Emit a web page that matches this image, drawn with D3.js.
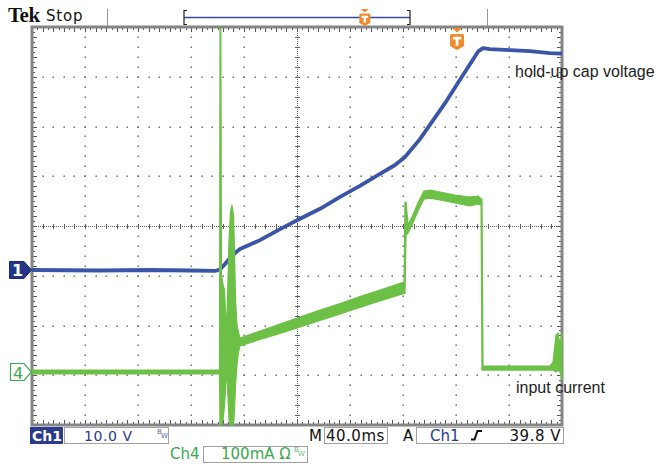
<!DOCTYPE html>
<html><head><meta charset="utf-8">
<script src="https://cdn.jsdelivr.net/npm/d3@7"></script>
<style>body{margin:0;background:#fff}svg{display:block}</style>
</head><body>
<svg id="scope" width="658" height="464"></svg>
<script>
// Acquisition settings
const timeDivs = 10, vertDivs = 8;
const msPerDiv = 40;
const ch1VoltsPerDiv = 10, ch1Position = -0.884;   // divisions from centre
const ch4mAPerDiv = 100, ch4Position = -2.935;
const triggerTime = 320.8;                          // ms from left edge
const recordTrigger = 0.8;                          // fraction of record bar

// Ch1: hold-up capacitor voltage (V) vs time (ms)
const ch1Time  = [0, 51.3, 89.1, 119.2, 138.1, 141.9, 145.7, 149.4, 153.2, 157.0, 172.1, 187.2, 202.3, 217.4, 232.5, 247.5, 262.6, 274.0, 281.5, 292.8, 312.4, 325.3, 337.0, 340.4, 345.7, 360.8, 375.8, 390.9, 400];
const ch1Volts = [0, -0.1, 0, -0.1, -0.2, 0.1, 1.2, 2.4, 3.4, 4.2, 6.0, 8.2, 10.3, 12.3, 14.7, 16.9, 19.3, 21.1, 22.7, 26.3, 33.8, 39.2, 44.0, 44.6, 44.4, 44.2, 44.0, 43.6, 43.5];

// Ch4: input current envelope (mA) vs time (ms)
const ch4Time = [0, 51.3, 96.6, 140.4, 141.5, 141.9, 142.5, 143.0, 144.2, 145.3, 146.0, 146.8, 147.5, 148.7, 149.8, 150.9, 152.1, 152.8, 153.6, 154.7, 155.8, 157.0, 172.1, 187.2, 202.3, 217.4, 232.5, 247.5, 262.6, 280.8, 281.5, 282.3, 283.8, 286.8, 291.3, 295.8, 300.4, 307.9, 319.2, 330.6, 336.6, 338.9, 339.6, 340.4, 353.2, 375.8, 390.9, 393.2, 395.5, 397.0, 398.5, 400];
const ch4Min  = [-4, -4, -4, -4, -4, -106.5, -106.5, -106.5, -96.5, -66.3, -36.2, 4.0, -26.1, -96.5, -106.5, -106.5, -106.5, -76.4, -26.1, 14.1, 40.2, 52.3, 65.3, 77.4, 90.5, 103.5, 116.6, 129.7, 142.7, 157.8, 157.8, 275.4, 279.4, 295.5, 323.6, 347.7, 349.7, 345.7, 339.7, 333.7, 337.7, 335.7, 4.0, 4.0, 4.0, 4.0, 4.0, 4.0, 0, 4.0, 0, -16.1];
const ch4Max  = [4, 4, 4, 4, 4, 691.5, 691.5, 195.0, 174.9, 164.8, 124.6, 84.4, 144.7, 265.3, 321.6, 335.7, 315.6, 245.2, 144.7, 94.5, 80.4, 68.3, 82.4, 96.5, 110.6, 124.6, 137.7, 151.8, 164.8, 180.9, 341.7, 341.7, 295.5, 311.6, 339.7, 363.8, 365.8, 361.8, 355.8, 351.8, 353.8, 347.8, 347.8, 12.1, 12.1, 12.1, 12.1, 20.1, 74.4, 78.4, 54.3, 78.4];

// Readouts
const ch1Scale = "10.0 V", ch4Scale = "100mA", timebase = "40.0ms", trigLevel = "39.8 V";
const traceLabels = ["hold-up cap voltage", "input current"];

const svg = d3.select("#scope");
const L = 32, R = 562, T = 27, B = 425;
const x = d3.scaleLinear().domain([0, timeDivs * msPerDiv]).range([L, R]);
const y1 = d3.scaleLinear()
  .domain([(-vertDivs / 2 - ch1Position) * ch1VoltsPerDiv, (vertDivs / 2 - ch1Position) * ch1VoltsPerDiv])
  .range([B, T]);
const y4 = d3.scaleLinear()
  .domain([(-vertDivs / 2 - ch4Position) * ch4mAPerDiv, (vertDivs / 2 - ch4Position) * ch4mAPerDiv])
  .range([B, T]);

const dx = (R - L) / timeDivs, dy = (B - T) / vertDivs;
const grid = svg.append("g");
const dotCol = "#5e5e5e";

// dotted division lines
for (let i = 1; i < timeDivs; i++) {
  if (i === timeDivs / 2) continue;
  const gx = Math.round(L + i * dx);
  d3.range(0, vertDivs * 5 + 1).forEach(k => {
    grid.append("rect").attr("x", gx - 0.5).attr("y", Math.round(T + k * dy / 5) - 0.5)
      .attr("width", 1.4).attr("height", 1.4).attr("fill", dotCol);
  });
}
for (let j = 1; j < vertDivs; j++) {
  if (j === vertDivs / 2) continue;
  const gy = Math.round(T + j * dy);
  d3.range(0, timeDivs * 5 + 1).forEach(k => {
    grid.append("rect").attr("x", Math.round(L + k * dx / 5) - 0.5).attr("y", gy - 0.5)
      .attr("width", 1.4).attr("height", 1.4).attr("fill", dotCol);
  });
}
// centre cross-hair with minor ticks
const cx = Math.round(L + 5 * dx), cy = Math.round(T + 4 * dy);
grid.append("line").attr("x1", L).attr("x2", R).attr("y1", cy + 0.5).attr("y2", cy + 0.5)
  .attr("stroke", dotCol).attr("stroke-dasharray", "1,1");
grid.append("line").attr("y1", T).attr("y2", B).attr("x1", cx + 0.5).attr("x2", cx + 0.5)
  .attr("stroke", dotCol).attr("stroke-dasharray", "1,1");
d3.range(0, timeDivs * 5 + 1).forEach(k => {
  const px = Math.round(L + k * dx / 5) + 0.5;
  grid.append("line").attr("x1", px).attr("x2", px).attr("y1", cy - 2).attr("y2", cy + 3).attr("stroke", dotCol);
});
d3.range(0, vertDivs * 5 + 1).forEach(k => {
  const py = Math.round(T + k * dy / 5) + 0.5;
  grid.append("line").attr("y1", py).attr("y2", py).attr("x1", cx - 2).attr("x2", cx + 3).attr("stroke", dotCol);
});
// border ticks
d3.range(0, timeDivs * 10 + 1).forEach(k => {
  const px = Math.round(L + k * dx / 10) + 0.5, len = k % 2 ? 2 : 4;
  grid.append("line").attr("x1", px).attr("x2", px).attr("y1", T).attr("y2", T + 1 + len).attr("stroke", "#555");
  grid.append("line").attr("x1", px).attr("x2", px).attr("y1", B).attr("y2", B - 1 - len).attr("stroke", "#555");
});
d3.range(0, vertDivs * 10 + 1).forEach(k => {
  const py = Math.round(T + k * dy / 10) + 0.5, len = k % 2 ? 2 : 4;
  grid.append("line").attr("y1", py).attr("y2", py).attr("x1", L).attr("x2", L + 1 + len).attr("stroke", "#555");
  grid.append("line").attr("y1", py).attr("y2", py).attr("x1", R).attr("x2", R - 1 - len).attr("stroke", "#555");
});
grid.append("rect").attr("x", L).attr("y", T).attr("width", R - L).attr("height", B - T)
  .attr("fill", "none").attr("stroke", "#858585").attr("stroke-width", 3);

// traces
const blue = "#3a55a8", green = "#6cc046";
svg.append("path")
  .datum(ch1Time.map((t, i) => [t, ch1Volts[i]]))
  .attr("d", d3.line().x(d => x(d[0])).y(d => y1(d[1])))
  .attr("fill", "none").attr("stroke", blue).attr("stroke-width", 3.8).attr("stroke-linejoin", "round");

const ch4 = ch4Time.map((t, i) => ({ t, lo: ch4Min[i], hi: ch4Max[i] }));
svg.append("path")
  .datum(ch4)
  .attr("d", d3.area().x(d => x(d.t)).y0(d => y4(d.lo)).y1(d => y4(d.hi)))
  .attr("fill", green).attr("stroke", green).attr("stroke-width", 1.2).attr("stroke-linejoin", "round");

// trigger position marker
function tMarker(g, cxp, top, w, h) {
  const c = "#f08a2c";
  g.append("path").attr("d", `M${cxp - w * 0.35},${top}L${cxp + w * 0.35},${top}L${cxp},${top + h * 0.2}Z`).attr("fill", c);
  const bt = top + h * 0.27, bb = top + h;
  g.append("path")
    .attr("d", `M${cxp - w / 2},${bt + 1.5}Q${cxp - w / 2},${bt} ${cxp - w / 2 + 1.5},${bt}L${cxp + w / 2 - 1.5},${bt}Q${cxp + w / 2},${bt} ${cxp + w / 2},${bt + 1.5}L${cxp + w / 2},${bb - h * 0.18}L${cxp},${bb}L${cxp - w / 2},${bb - h * 0.18}Z`)
    .attr("fill", c);
  const tw = w * 0.6, th = (bb - bt) * 0.55, ty = bt + (bb - bt) * 0.18;
  g.append("rect").attr("x", cxp - tw / 2).attr("y", ty).attr("width", tw).attr("height", h * 0.12).attr("fill", "#fff");
  g.append("rect").attr("x", cxp - w * 0.1).attr("y", ty).attr("width", w * 0.2).attr("height", th).attr("fill", "#fff");
}
tMarker(svg.append("g"), x(triggerTime), 28, 14, 22);

// header
svg.append("text").attr("x", 8).attr("y", 22).text("Tek")
  .attr("font-family", "Liberation Serif").attr("font-weight", "bold").attr("font-size", 21).attr("fill", "#111")
  .attr("letter-spacing", -0.5);
svg.append("text").attr("x", 46).attr("y", 21).text("Stop")
  .attr("font-family", "DejaVu Sans").attr("font-size", 15).attr("fill", "#111").attr("letter-spacing", 0.8);
svg.append("line").attr("x1", 107.5).attr("x2", 107.5).attr("y1", 9).attr("y2", 26).attr("stroke", "#999");
const rb0 = 184, rb1 = 410;
svg.append("line").attr("x1", rb0).attr("x2", rb1).attr("y1", 17.5).attr("y2", 17.5).attr("stroke", "#3a4a9a").attr("stroke-width", 1.3);
svg.append("path").attr("d", `M${rb0 + 3},10.5H${rb0}V24.5H${rb0 + 3}`).attr("fill", "none").attr("stroke", "#222").attr("stroke-width", 1.2);
svg.append("path").attr("d", `M${rb1 - 3},10.5H${rb1}V24.5H${rb1 - 3}`).attr("fill", "none").attr("stroke", "#222").attr("stroke-width", 1.2);
tMarker(svg.append("g"), rb0 + (rb1 - rb0) * recordTrigger, 9, 11, 17);
svg.append("line").attr("x1", 487.5).attr("x2", 487.5).attr("y1", 9).attr("y2", 26).attr("stroke", "#999");

// channel ground markers
const m1 = svg.append("g").attr("transform", `translate(0,${y1(0)})`);
m1.append("path").attr("d", "M9.5,-8.5H24L31.5,0L24,8.5H9.5Z").attr("fill", "#24368a").attr("stroke", "#1c2a70");
m1.append("text").attr("x", 17.5).attr("y", 6.5).attr("text-anchor", "middle").text("1")
  .attr("font-family", "DejaVu Sans").attr("font-weight", "bold").attr("font-size", 16).attr("fill", "#fff");
const m4 = svg.append("g").attr("transform", `translate(0,${y4(0)})`);
m4.append("path").attr("d", "M10.5,-8.5H24L31.5,0L24,8.5H10.5Z").attr("fill", "#fff").attr("stroke", "#3aaa50").attr("stroke-width", 1.2);
m4.append("text").attr("x", 18).attr("y", 6.5).attr("text-anchor", "middle").text("4")
  .attr("font-family", "DejaVu Sans").attr("font-size", 16).attr("fill", "#3aaa50");

// trace labels
svg.append("text").attr("x", 515).attr("y", 77).text(traceLabels[0])
  .attr("font-family", "Liberation Sans").attr("font-size", 16).attr("fill", "#222");
svg.append("text").attr("x", 516).attr("y", 393).text(traceLabels[1])
  .attr("font-family", "Liberation Sans").attr("font-size", 16).attr("fill", "#222");

// readouts
const ro = svg.append("g").attr("font-family", "DejaVu Sans").attr("font-size", 14);
function box(x0, y0, x1, y1b) {
  ro.append("rect").attr("x", x0 + 0.5).attr("y", y0 + 0.5).attr("width", x1 - x0).attr("height", y1b - y0)
    .attr("fill", "#fff").attr("stroke", "#a0a0a0");
}
function bw(xp, yp, col) {
  ro.append("text").attr("x", xp).attr("y", yp).text("B").attr("font-size", 7).attr("fill", col);
  ro.append("text").attr("x", xp + 4).attr("y", yp + 4).text("W").attr("font-size", 7).attr("fill", col);
}
ro.append("rect").attr("x", 30).attr("y", 427).attr("width", 33).attr("height", 17).attr("fill", "#2a3a8e");
ro.append("text").attr("x", 32).attr("y", 441).text("Ch1").attr("font-weight", "bold").attr("fill", "#fff");
box(64, 427, 168, 443);
ro.append("text").attr("x", 84).attr("y", 441).text(ch1Scale).attr("fill", "#2a3a8e").attr("letter-spacing", 0.6);
bw(157, 434, "#5a68a8");
ro.append("text").attr("x", 170).attr("y", 459).text("Ch4").attr("fill", "#3aaa50").attr("font-size", 15);
box(203, 446, 307, 462);
ro.append("text").attr("x", 221).attr("y", 459).text(ch4Scale + " \u03A9").attr("fill", "#3aaa50").attr("font-size", 15);
bw(294, 452, "#6cc080");
ro.append("text").attr("x", 309).attr("y", 441).text("M").attr("fill", "#111").attr("font-size", 15);
box(324, 427, 387, 443);
ro.append("text").attr("x", 326).attr("y", 441).text(timebase).attr("fill", "#111").attr("font-size", 15).attr("letter-spacing", 0.5);
ro.append("text").attr("x", 403).attr("y", 441).text("A").attr("fill", "#111").attr("font-size", 15);
box(416, 427, 563, 443);
ro.append("text").attr("x", 430).attr("y", 441).text("Ch1").attr("fill", "#2a3a8e").attr("font-size", 15);
ro.append("path").attr("d", "M471,439.5H474.5L477.5,431H482").attr("fill", "none").attr("stroke", "#111").attr("stroke-width", 2);
ro.append("text").attr("x", 561).attr("y", 441).attr("text-anchor", "end").text(trigLevel).attr("fill", "#111").attr("font-size", 15).attr("letter-spacing", 0.5);
</script>
</body></html>
